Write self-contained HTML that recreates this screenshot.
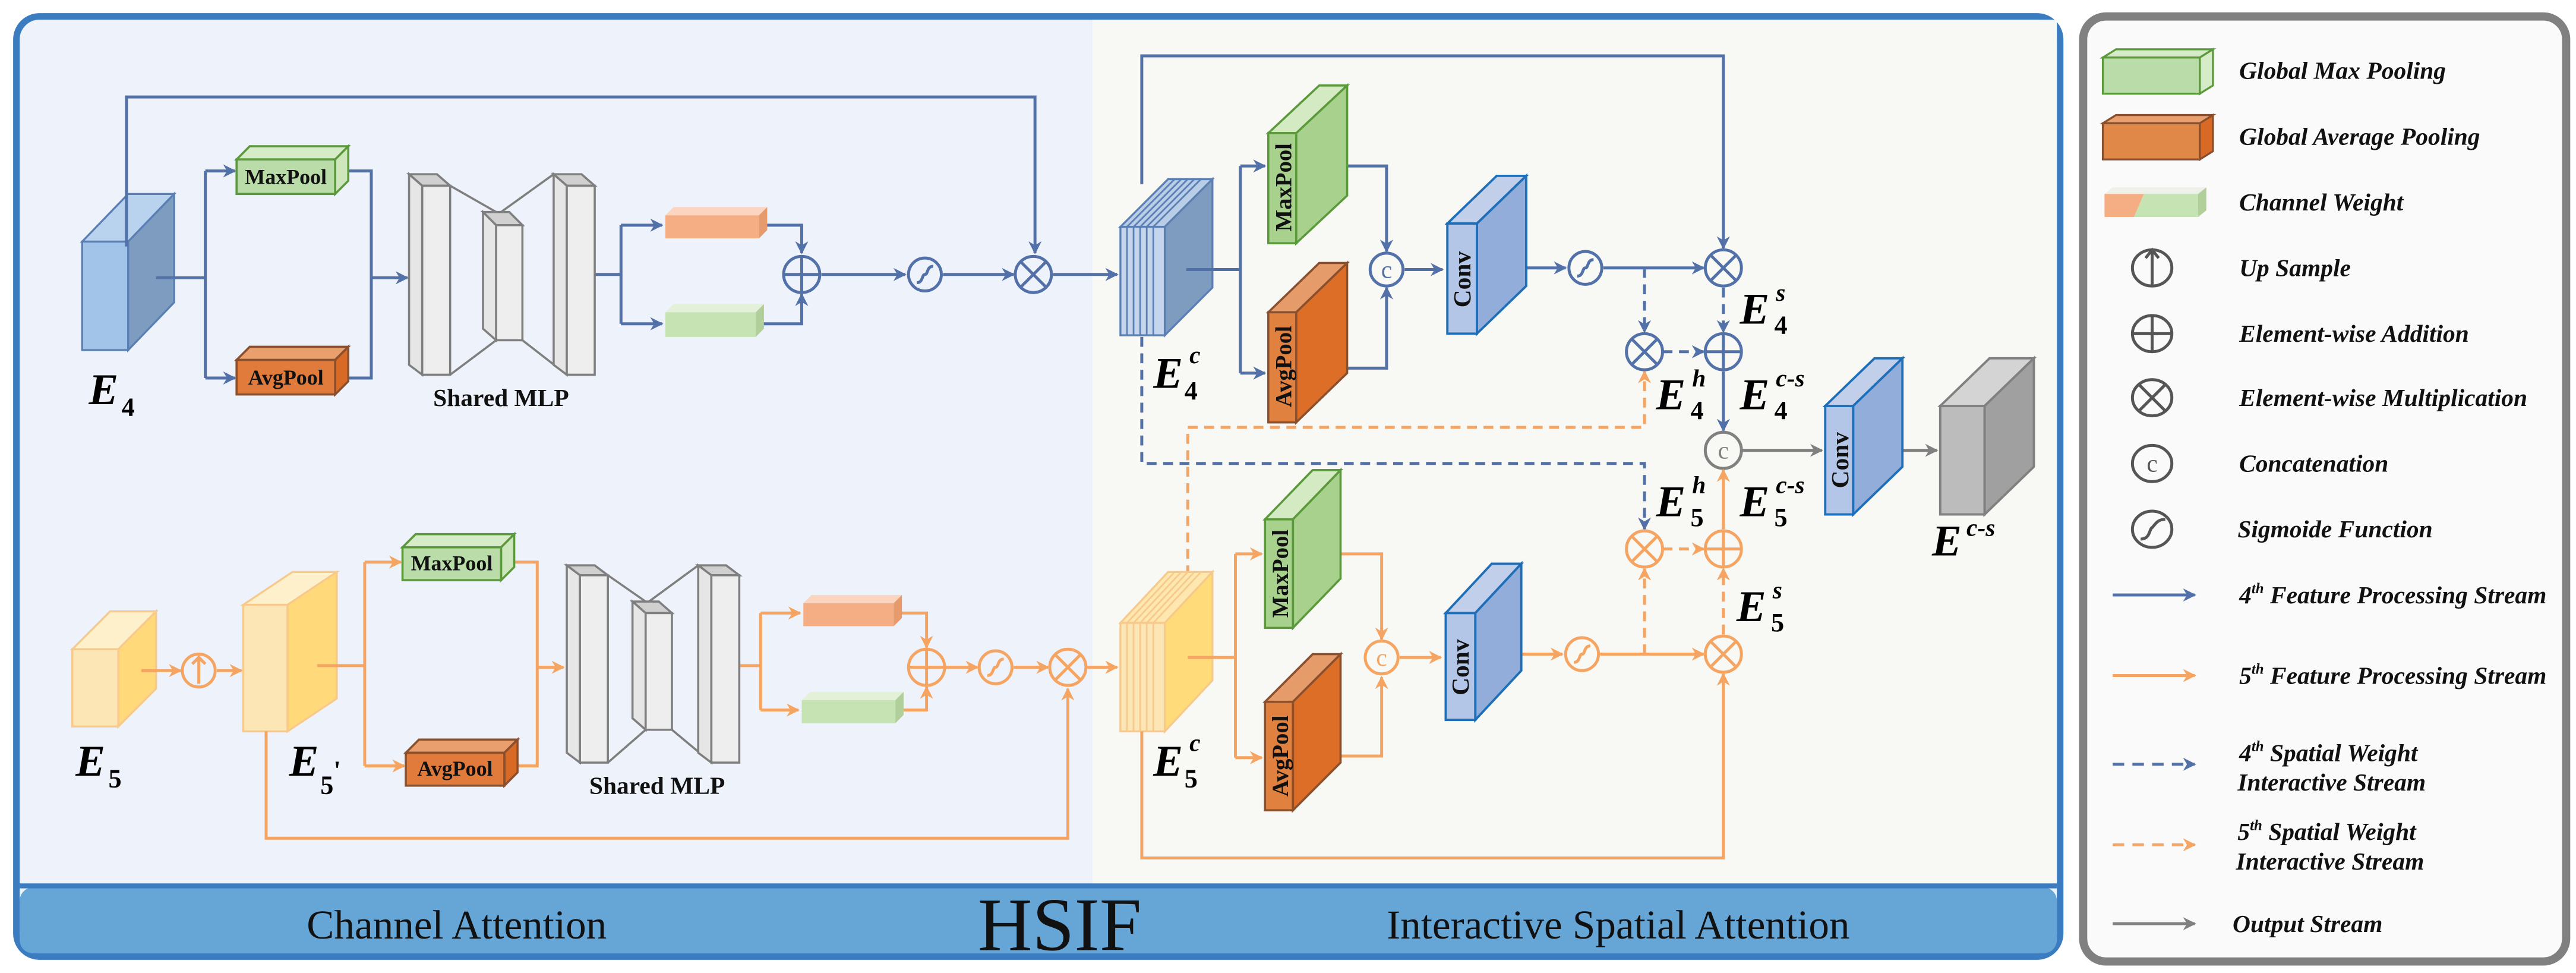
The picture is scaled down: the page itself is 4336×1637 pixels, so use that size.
<!DOCTYPE html>
<html><head><meta charset="utf-8"><style>
html,body{margin:0;padding:0;background:#fff;}
svg{display:block;font-family:"Liberation Serif","DejaVu Serif",serif;}
svg text{font-family:"Liberation Serif","DejaVu Serif",serif !important;}
.E{font-weight:bold;font-style:italic;font-size:27px;}
.sb{font-weight:bold;font-size:16px;}
.sp{font-weight:bold;font-style:italic;font-size:15px;}
.lg{font-weight:bold;font-style:italic;font-size:15px;fill:#111;}
</style></head><body>
<svg width="4336" height="1637" viewBox="0 0 1568 592" preserveAspectRatio="none" xmlns="http://www.w3.org/2000/svg" font-family="Liberation Serif, DejaVu Serif, serif" style="font-family:'Liberation Serif','DejaVu Serif',serif">
<defs>
<marker id="ab" viewBox="0 0 10 10" refX="9" refY="5" markerWidth="9" markerHeight="8" orient="auto" markerUnits="userSpaceOnUse"><path d="M0,0 L10,5 L0,10 L3,5z" fill="#5371a9"/></marker>
<marker id="ao" viewBox="0 0 10 10" refX="9" refY="5" markerWidth="9" markerHeight="8" orient="auto" markerUnits="userSpaceOnUse"><path d="M0,0 L10,5 L0,10 L3,5z" fill="#f5a462"/></marker>
<marker id="ag" viewBox="0 0 10 10" refX="9" refY="5" markerWidth="9" markerHeight="8" orient="auto" markerUnits="userSpaceOnUse"><path d="M0,0 L10,5 L0,10 L3,5z" fill="#808080"/></marker>
</defs>

<rect x="10" y="10" width="1244" height="572" rx="14" fill="#eef2fa" stroke="#3a7cbf" stroke-width="4"/>
<rect x="665" y="12" width="587" height="527" fill="#f8f8f4"/>
<rect x="12" y="540" width="1240" height="40" rx="8" fill="#66a6d6"/>
<line x1="12" y1="539" x2="1252" y2="539" stroke="#3a7cbf" stroke-width="3"/>
<text x="278" y="571" font-size="25" text-anchor="middle" fill="#111">Channel Attention</text>
<text x="645" y="578" font-size="46" text-anchor="middle" fill="#111">HSIF</text>
<text x="985" y="571" font-size="25" text-anchor="middle" fill="#111">Interactive Spatial Attention</text>

<rect x="1268" y="10" width="294" height="575" rx="14" fill="#fafafa" stroke="#808080" stroke-width="5"/>

<polygon points="50,147 78,118 106,118 78,147" fill="#b9d3ef" stroke="#5a7fb5" stroke-width="1.2"/>
<polygon points="78,147 106,118 106,184 78,213" fill="#7d9cc0" stroke="#5a7fb5" stroke-width="1.2"/>
<rect x="50" y="147" width="28" height="66" fill="#a2c4e8" stroke="#5a7fb5" stroke-width="1.2"/>
<text x="54" y="246" class="E">E</text><text x="74" y="253" class="sb">4</text>

<g fill="none" stroke="#5371a9" stroke-width="1.8">
<path d="M77,150 V59 H630 V154" marker-end="url(#ab)"/>
<path d="M95,169 H125 M125,104 V230"/>
<path d="M125,104 H143" marker-end="url(#ab)"/>
<path d="M125,230 H143" marker-end="url(#ab)"/>
<path d="M206,104 H226 V230 H206"/>
<path d="M226,169 H248" marker-end="url(#ab)"/>
<path d="M362,167 H378 M378,137 V197"/>
<path d="M378,137 H403" marker-end="url(#ab)"/>
<path d="M378,197 H403" marker-end="url(#ab)"/>
<path d="M465,137 H488 V154" marker-end="url(#ab)"/>
<path d="M463,197 H488 V179" marker-end="url(#ab)"/>
<path d="M500,167 H551" marker-end="url(#ab)"/>
<path d="M574,167 H617" marker-end="url(#ab)"/>
<path d="M641,167 H680" marker-end="url(#ab)"/>
</g>

<polygon points="144,97 152,89 212,89 204,97" fill="#d6ebc8" stroke="#5a9a3a" stroke-width="1.3"/>
<polygon points="204,97 212,89 212,110 204,118" fill="#cde6bc" stroke="#5a9a3a" stroke-width="1.3"/>
<rect x="144" y="97" width="60" height="21" fill="#b9dca8" stroke="#5a9a3a" stroke-width="1.3"/>
<text x="174" y="112" font-size="13" text-anchor="middle" fill="#111" font-weight="bold">MaxPool</text>
<polygon points="144,219 152,211 212,211 204,219" fill="#e9a06e" stroke="#8a4f2d" stroke-width="1.3"/>
<polygon points="204,219 212,211 212,232 204,240" fill="#d96a26" stroke="#8a4f2d" stroke-width="1.3"/>
<rect x="144" y="219" width="60" height="21" fill="#e07b3c" stroke="#8a4f2d" stroke-width="1.3"/>
<text x="174" y="234" font-size="13" text-anchor="middle" fill="#111" font-weight="bold">AvgPool</text>

<g stroke="#7f7f7f" stroke-width="1.3">
<line x1="274" y1="113" x2="302" y2="129"/><line x1="274" y1="228" x2="302" y2="207"/>
<line x1="305" y1="129" x2="337" y2="106"/><line x1="318" y1="207" x2="345" y2="228"/>
<polygon points="249,106 266,106 274,113 257,113" fill="#d0d0d0"/>
<polygon points="249,106 257,113 257,228 249,222" fill="#e6e6e6"/>
<rect x="257" y="113" width="17" height="115" fill="#eeeeee"/>
<polygon points="294,129 310,129 318,137 302,137" fill="#d0d0d0"/>
<polygon points="294,129 302,137 302,207 294,200" fill="#e6e6e6"/>
<rect x="302" y="137" width="16" height="70" fill="#eeeeee"/>
<polygon points="337,106 354,106 362,113 345,113" fill="#d0d0d0"/>
<polygon points="337,106 345,113 345,228 337,222" fill="#e6e6e6"/>
<rect x="345" y="113" width="17" height="115" fill="#eeeeee"/>
</g>
<text x="305" y="247" font-size="15" text-anchor="middle" font-weight="bold" fill="#111">Shared MLP</text>

<polygon points="405,131 410,126 467,126 462,131" fill="#fbd5c0"/>
<rect x="405" y="131" width="57" height="14" fill="#f5ae84"/>
<polygon points="462,131 467,126 467,140 462,145" fill="#e79a6c"/>
<polygon points="405,190 410,185 465,185 460,190" fill="#e3f1d8"/>
<rect x="405" y="190" width="55" height="15" fill="#c6e3b4"/>
<polygon points="460,190 465,185 465,200 460,205" fill="#b1cf9a"/>

<g fill="none" stroke="#5371a9" stroke-width="1.8">
<circle cx="488" cy="167" r="11"/><path d="M477,167 H499 M488,156 V178"/>
<circle cx="563" cy="167" r="10"/><path d="M558,172 C562,172 561,167 563,167 C565,167 564,162 568,162"/>
<circle cx="629" cy="167" r="11"/><path d="M621,159 L637,175 M637,159 L621,175"/>
</g>

<polygon points="682,138 711,109 738,109 709,138" fill="#b9cde6" stroke="#5a7fb5" stroke-width="1.2"/>
<g stroke="#5a7fb5" stroke-width="1"><path d="M686,138 L715,109 M690,138 L719,109 M694,138 L723,109 M698,138 L727,109 M702,138 L731,109"/></g>
<polygon points="709,138 738,109 738,175 709,204" fill="#7d9cc0" stroke="#5a7fb5" stroke-width="1.2"/>
<rect x="682" y="138" width="27" height="66" fill="#c5d6ec" stroke="#5a7fb5" stroke-width="1.2"/>
<g stroke="#5a7fb5" stroke-width="1"><path d="M686,138 V204 M690,138 V204 M694,138 V204 M698,138 V204 M702,138 V204"/></g>
<text x="702" y="236" class="E">E</text><text x="724" y="221" class="sp">c</text><text x="721" y="243" class="sb">4</text>

<g fill="none" stroke="#5371a9" stroke-width="1.8">
<path d="M695,112 V34 H1049 V151" marker-end="url(#ab)"/>
<path d="M722,164 H755 M755,101 V227"/>
<path d="M755,101 H770" marker-end="url(#ab)"/>
<path d="M755,227 H770" marker-end="url(#ab)"/>
<path d="M806,101 H844 V153" marker-end="url(#ab)"/>
<path d="M808,224 H844 V175" marker-end="url(#ab)"/>
<path d="M855,164 H878" marker-end="url(#ab)"/>
<path d="M913,163 H953" marker-end="url(#ab)"/>
<path d="M976,163 H1037" marker-end="url(#ab)"/>
<path d="M1049,226 V262" marker-end="url(#ab)"/>
</g>
<g fill="none" stroke="#5371a9" stroke-width="1.8" stroke-dasharray="6,4">
<path d="M1001,163 V202" marker-end="url(#ab)"/>
<path d="M1012,214 H1037" marker-end="url(#ab)"/>
<path d="M1049,175 V202" marker-end="url(#ab)"/>
<path d="M695,205 V282 H1001 V322" marker-end="url(#ab)"/>
</g>
<g fill="none" stroke="#f5a462" stroke-width="1.8" stroke-dasharray="6,4">
<path d="M723,350 V260 H1001 V226" marker-end="url(#ao)"/>
</g>

<polygon points="772,81 803,52 820,52 789,81" fill="#d3eac3" stroke="#5a9a3a" stroke-width="1.3"/>
<polygon points="789,81 820,52 820,119 789,148" fill="#a8d18d" stroke="#5a9a3a" stroke-width="1.3"/>
<rect x="772" y="81" width="17" height="67" fill="#a8d18d" stroke="#5a9a3a" stroke-width="1.3"/>
<text transform="translate(786,114) rotate(-90)" font-size="14" text-anchor="middle" font-weight="bold" fill="#111">MaxPool</text>
<polygon points="772,190 803,160 820,160 789,190" fill="#e69c6a" stroke="#8a4f2d" stroke-width="1.3"/>
<polygon points="789,190 820,160 820,227 789,257" fill="#dc6e27" stroke="#8a4f2d" stroke-width="1.3"/>
<rect x="772" y="190" width="17" height="67" fill="#e08140" stroke="#8a4f2d" stroke-width="1.3"/>
<text transform="translate(786,223) rotate(-90)" font-size="14" text-anchor="middle" font-weight="bold" fill="#111">AvgPool</text>
<polygon points="881,136 911,107 929,107 899,136" fill="#c1cfea" stroke="#1f6fb8" stroke-width="1.4"/>
<polygon points="899,136 929,107 929,174 899,203" fill="#93addb" stroke="#1f6fb8" stroke-width="1.4"/>
<rect x="881" y="136" width="18" height="67" fill="#b4c6e7" stroke="#1f6fb8" stroke-width="1.4"/>
<text transform="translate(895,170) rotate(-90)" font-size="15" text-anchor="middle" font-weight="bold" fill="#111">Conv</text>

<g fill="none" stroke="#5371a9" stroke-width="1.8">
<circle cx="844" cy="164" r="10"/>
<circle cx="965" cy="163" r="10"/><path d="M960,168 C964,168 963,163 965,163 C967,163 966,158 970,158"/>
<circle cx="1049" cy="163" r="11"/><path d="M1041,155 L1057,171 M1057,155 L1041,171"/>
<circle cx="1001" cy="214" r="11"/><path d="M993,206 L1009,222 M1009,206 L993,222"/>
<circle cx="1049" cy="214" r="11"/><path d="M1038,214 H1060 M1049,203 V225"/>
</g>
<text x="844" y="169" font-size="15" text-anchor="middle" fill="#5371a9">c</text>

<g fill="none" stroke="#808080" stroke-width="1.8">
<circle cx="1049" cy="274" r="11"/>
<path d="M1060,274 H1109" marker-end="url(#ag)"/>
<path d="M1143,274 H1179" marker-end="url(#ag)"/>
</g>
<text x="1049" y="279" font-size="15" text-anchor="middle" fill="#808080">c</text>
<polygon points="1111,247 1141,218 1158,218 1128,247" fill="#c1cfea" stroke="#1f6fb8" stroke-width="1.4"/>
<polygon points="1128,247 1158,218 1158,284 1128,313" fill="#93addb" stroke="#1f6fb8" stroke-width="1.4"/>
<rect x="1111" y="247" width="17" height="66" fill="#b4c6e7" stroke="#1f6fb8" stroke-width="1.4"/>
<text transform="translate(1125,280) rotate(-90)" font-size="15" text-anchor="middle" font-weight="bold" fill="#111">Conv</text>
<polygon points="1181,247 1211,218 1238,218 1208,247" fill="#d4d4d4" stroke="#808080" stroke-width="1.4"/>
<polygon points="1208,247 1238,218 1238,284 1208,313" fill="#a0a0a0" stroke="#808080" stroke-width="1.4"/>
<rect x="1181" y="247" width="27" height="66" fill="#bcbcbc" stroke="#808080" stroke-width="1.4"/>
<text x="1176" y="338" class="E">E</text><text x="1197" y="326" class="sp">c-s</text>

<text x="1059" y="197" class="E">E</text><text x="1081" y="183" class="sp">s</text><text x="1080" y="203" class="sb">4</text>
<text x="1008" y="249" class="E">E</text><text x="1030" y="235" class="sp">h</text><text x="1029" y="255" class="sb">4</text>
<text x="1059" y="249" class="E">E</text><text x="1081" y="235" class="sp">c-s</text><text x="1080" y="255" class="sb">4</text>
<text x="1008" y="314" class="E">E</text><text x="1030" y="300" class="sp">h</text><text x="1029" y="320" class="sb">5</text>
<text x="1059" y="314" class="E">E</text><text x="1081" y="300" class="sp">c-s</text><text x="1080" y="320" class="sb">5</text>
<text x="1057" y="378" class="E">E</text><text x="1079" y="364" class="sp">s</text><text x="1078" y="384" class="sb">5</text>

<polygon points="44,395 67,372 95,372 72,395" fill="#fff0cc" stroke="#f7c98a" stroke-width="1.2"/>
<polygon points="72,395 95,372 95,419 72,442" fill="#ffd97a" stroke="#f7c98a" stroke-width="1.2"/>
<rect x="44" y="395" width="28" height="47" fill="#fde6b6" stroke="#f7c98a" stroke-width="1.2"/>
<text x="46" y="472" class="E">E</text><text x="66" y="479" class="sb">5</text>

<polygon points="148,368 178,348 205,348 175,368" fill="#fff0cc" stroke="#f7c98a" stroke-width="1.2"/>
<polygon points="175,368 205,348 205,425 175,445" fill="#ffd97a" stroke="#f7c98a" stroke-width="1.2"/>
<rect x="148" y="368" width="27" height="77" fill="#fde6b6" stroke="#f7c98a" stroke-width="1.2"/>
<text x="176" y="472" class="E">E</text><text x="195" y="483" class="sb">5</text><text x="203" y="474" class="sb" font-size="11">'</text>

<g fill="none" stroke="#f5a462" stroke-width="1.8">
<path d="M86,408 H110" marker-end="url(#ao)"/>
<circle cx="121" cy="408" r="10"/><path d="M121,400 V416 M117,404 L121,400 L125,404"/>
<path d="M132,408 H147" marker-end="url(#ao)"/>
<path d="M193,405 H222 M222,342 V466"/>
<path d="M222,342 H244" marker-end="url(#ao)"/>
<path d="M222,466 H246" marker-end="url(#ao)"/>
<path d="M306,342 H327 V466 H308"/>
<path d="M327,406 H343" marker-end="url(#ao)"/>
<path d="M450,405 H463 M463,373 V432"/>
<path d="M463,373 H487" marker-end="url(#ao)"/>
<path d="M463,432 H486" marker-end="url(#ao)"/>
<path d="M546,373 H564 V394" marker-end="url(#ao)"/>
<path d="M547,432 H564 V418" marker-end="url(#ao)"/>
<circle cx="564" cy="406" r="11"/><path d="M553,406 H575 M564,395 V417"/>
<path d="M575,406 H595" marker-end="url(#ao)"/>
<circle cx="606" cy="406" r="10"/><path d="M601,411 C605,411 604,406 606,406 C608,406 607,401 611,401"/>
<path d="M617,406 H638" marker-end="url(#ao)"/>
<circle cx="650" cy="406" r="11"/><path d="M642,398 L658,414 M658,398 L642,414"/>
<path d="M661,406 H680" marker-end="url(#ao)"/>
<path d="M162,445 V510 H650 V419" marker-end="url(#ao)"/>
</g>

<polygon points="245,333 253,325 313,325 305,333" fill="#d6ebc8" stroke="#5a9a3a" stroke-width="1.3"/>
<polygon points="305,333 313,325 313,345 305,353" fill="#cde6bc" stroke="#5a9a3a" stroke-width="1.3"/>
<rect x="245" y="333" width="60" height="20" fill="#b9dca8" stroke="#5a9a3a" stroke-width="1.3"/>
<text x="275" y="347" font-size="13" text-anchor="middle" fill="#111" font-weight="bold">MaxPool</text>
<polygon points="247,458 255,450 315,450 307,458" fill="#e9a06e" stroke="#8a4f2d" stroke-width="1.3"/>
<polygon points="307,458 315,450 315,470 307,478" fill="#d96a26" stroke="#8a4f2d" stroke-width="1.3"/>
<rect x="247" y="458" width="60" height="20" fill="#e07b3c" stroke="#8a4f2d" stroke-width="1.3"/>
<text x="277" y="472" font-size="13" text-anchor="middle" fill="#111" font-weight="bold">AvgPool</text>

<g stroke="#7f7f7f" stroke-width="1.3">
<line x1="370" y1="350" x2="393" y2="366"/><line x1="370" y1="464" x2="393" y2="444"/>
<line x1="395" y1="366" x2="425" y2="344"/><line x1="409" y1="444" x2="433" y2="464"/>
<polygon points="345,344 362,344 370,350 353,350" fill="#d0d0d0"/>
<polygon points="345,344 353,350 353,464 345,458" fill="#e6e6e6"/>
<rect x="353" y="350" width="17" height="114" fill="#eeeeee"/>
<polygon points="385,366 401,366 409,373 393,373" fill="#d0d0d0"/>
<polygon points="385,366 393,373 393,444 385,437" fill="#e6e6e6"/>
<rect x="393" y="373" width="16" height="71" fill="#eeeeee"/>
<polygon points="425,344 442,344 450,350 433,350" fill="#d0d0d0"/>
<polygon points="425,344 433,350 433,464 425,458" fill="#e6e6e6"/>
<rect x="433" y="350" width="17" height="114" fill="#eeeeee"/>
</g>
<text x="400" y="483" font-size="15" text-anchor="middle" font-weight="bold" fill="#111">Shared MLP</text>

<polygon points="489,367 494,362 549,362 544,367" fill="#fbd5c0"/>
<rect x="489" y="367" width="55" height="14" fill="#f5ae84"/>
<polygon points="544,367 549,362 549,376 544,381" fill="#e79a6c"/>
<polygon points="488,426 493,421 550,421 545,426" fill="#e3f1d8"/>
<rect x="488" y="426" width="57" height="14" fill="#c6e3b4"/>
<polygon points="545,426 550,421 550,435 545,440" fill="#b1cf9a"/>

<polygon points="682,379 711,348 738,348 709,379" fill="#ffe7b0" stroke="#f7c98a" stroke-width="1.2"/>
<g stroke="#f7c98a" stroke-width="1"><path d="M686,379 L715,348 M690,379 L719,348 M694,379 L723,348 M698,379 L727,348 M702,379 L731,348"/></g>
<polygon points="709,379 738,348 738,414 709,445" fill="#ffdb7a" stroke="#f7c98a" stroke-width="1.2"/>
<rect x="682" y="379" width="27" height="66" fill="#fde6b6" stroke="#f7c98a" stroke-width="1.2"/>
<g stroke="#f7c98a" stroke-width="1"><path d="M686,379 V445 M690,379 V445 M694,379 V445 M698,379 V445 M702,379 V445"/></g>
<text x="702" y="472" class="E">E</text><text x="724" y="457" class="sp">c</text><text x="721" y="479" class="sb">5</text>

<g fill="none" stroke="#f5a462" stroke-width="1.8">
<path d="M723,400 H752 M752,337 V461"/>
<path d="M752,337 H768" marker-end="url(#ao)"/>
<path d="M752,461 H768" marker-end="url(#ao)"/>
<path d="M804,337 H841 V389" marker-end="url(#ao)"/>
<path d="M805,460 H841 V412" marker-end="url(#ao)"/>
<circle cx="841" cy="400" r="10"/>
<path d="M852,400 H877" marker-end="url(#ao)"/>
<path d="M910,398 H951" marker-end="url(#ao)"/>
<circle cx="963" cy="398" r="10"/><path d="M958,403 C962,403 961,398 963,398 C965,398 964,393 968,393"/>
<path d="M974,398 H1037" marker-end="url(#ao)"/>
<circle cx="1049" cy="398" r="11"/><path d="M1041,390 L1057,406 M1057,390 L1041,406"/>
<circle cx="1001" cy="334" r="11"/><path d="M993,326 L1009,342 M1009,326 L993,342"/>
<circle cx="1049" cy="334" r="11"/><path d="M1038,334 H1060 M1049,323 V345"/>
<path d="M1049,322 V286" marker-end="url(#ao)"/>
<path d="M695,445 V522 H1049 V410" marker-end="url(#ao)"/>
</g>
<text x="841" y="405" font-size="15" text-anchor="middle" fill="#f5a462">c</text>
<g fill="none" stroke="#f5a462" stroke-width="1.8" stroke-dasharray="6,4">
<path d="M1001,398 V346" marker-end="url(#ao)"/>
<path d="M1012,334 H1037" marker-end="url(#ao)"/>
<path d="M1049,386 V346" marker-end="url(#ao)"/>
</g>

<polygon points="770,316 799,286 816,286 787,316" fill="#d3eac3" stroke="#5a9a3a" stroke-width="1.3"/>
<polygon points="787,316 816,286 816,352 787,382" fill="#a8d18d" stroke="#5a9a3a" stroke-width="1.3"/>
<rect x="770" y="316" width="17" height="66" fill="#a8d18d" stroke="#5a9a3a" stroke-width="1.3"/>
<text transform="translate(784,349) rotate(-90)" font-size="14" text-anchor="middle" font-weight="bold" fill="#111">MaxPool</text>
<polygon points="770,427 799,398 816,398 787,427" fill="#e69c6a" stroke="#8a4f2d" stroke-width="1.3"/>
<polygon points="787,427 816,398 816,464 787,493" fill="#dc6e27" stroke="#8a4f2d" stroke-width="1.3"/>
<rect x="770" y="427" width="17" height="66" fill="#e08140" stroke="#8a4f2d" stroke-width="1.3"/>
<text transform="translate(784,460) rotate(-90)" font-size="14" text-anchor="middle" font-weight="bold" fill="#111">AvgPool</text>
<polygon points="880,373 908,343 926,343 898,373" fill="#c1cfea" stroke="#1f6fb8" stroke-width="1.4"/>
<polygon points="898,373 926,343 926,408 898,438" fill="#93addb" stroke="#1f6fb8" stroke-width="1.4"/>
<rect x="880" y="373" width="18" height="65" fill="#b4c6e7" stroke="#1f6fb8" stroke-width="1.4"/>
<text transform="translate(894,406) rotate(-90)" font-size="15" text-anchor="middle" font-weight="bold" fill="#111">Conv</text>

<polygon points="1280,35 1288,30 1347,30 1339,35" fill="#d6ebc8" stroke="#5a9a3a" stroke-width="1.2"/>
<polygon points="1339,35 1347,30 1347,52 1339,57" fill="#d6ebc8" stroke="#5a9a3a" stroke-width="1.2"/>
<rect x="1280" y="35" width="59" height="22" fill="#b9dca8" stroke="#5a9a3a" stroke-width="1.2"/>
<polygon points="1280,75 1288,70 1347,70 1339,75" fill="#e9a06e" stroke="#8a4f2d" stroke-width="1.2"/>
<polygon points="1339,75 1347,70 1347,92 1339,97" fill="#d96a26" stroke="#8a4f2d" stroke-width="1.2"/>
<rect x="1280" y="75" width="59" height="22" fill="#e08848" stroke="#8a4f2d" stroke-width="1.2"/>
<polygon points="1281,118 1286,114 1343,114 1338,118" fill="#eef0ea"/>
<polygon points="1281,118 1305,118 1299,132 1281,132" fill="#f5ae84"/>
<polygon points="1305,118 1338,118 1338,132 1299,132" fill="#c6e3b4"/>
<polygon points="1338,118 1343,114 1343,128 1338,132" fill="#b1cf9a"/>
<g fill="none" stroke="#555" stroke-width="1.8">
<ellipse cx="1310" cy="163" rx="12" ry="11"/><path d="M1310,174 V153 M1306,157 L1310,152 L1314,157"/>
<ellipse cx="1310" cy="203" rx="12" ry="11"/><path d="M1298,203 H1322 M1310,192 V214"/>
<ellipse cx="1310" cy="242" rx="12" ry="11"/><path d="M1302,234 L1318,250 M1318,234 L1302,250"/>
<ellipse cx="1310" cy="282" rx="12" ry="11"/>
<ellipse cx="1310" cy="322" rx="12" ry="11"/><path d="M1303,328 C1309,328 1308,322 1310,321 C1312,319 1313,316 1318,316"/>
</g>
<text x="1310" y="287" font-size="15" text-anchor="middle" fill="#555">c</text>
<path d="M1286,362 H1336" stroke="#5371a9" stroke-width="1.8" marker-end="url(#ab)"/>
<path d="M1286,411 H1336" stroke="#f5a462" stroke-width="1.8" marker-end="url(#ao)"/>
<path d="M1286,465 H1336" stroke="#5371a9" stroke-width="1.8" stroke-dasharray="7,5" marker-end="url(#ab)"/>
<path d="M1286,514 H1336" stroke="#f5a462" stroke-width="1.8" stroke-dasharray="7,5" marker-end="url(#ao)"/>
<path d="M1286,562 H1336" stroke="#808080" stroke-width="1.8" marker-end="url(#ag)"/>

<text x="1363" y="48" class="lg">Global Max Pooling</text>
<text x="1363" y="88" class="lg">Global Average Pooling</text>
<text x="1363" y="128" class="lg">Channel Weight</text>
<text x="1363" y="168" class="lg">Up Sample</text>
<text x="1363" y="208" class="lg">Element-wise Addition</text>
<text x="1363" y="247" class="lg">Element-wise Multiplication</text>
<text x="1363" y="287" class="lg">Concatenation</text>
<text x="1362" y="327" class="lg">Sigmoide Function</text>
<text x="1363" y="367" class="lg">4<tspan font-size="9" dy="-6">th</tspan><tspan dy="6"> Feature Processing Stream</tspan></text>
<text x="1363" y="416" class="lg">5<tspan font-size="9" dy="-6">th</tspan><tspan dy="6"> Feature Processing Stream</tspan></text>
<text x="1363" y="463" class="lg">4<tspan font-size="9" dy="-6">th</tspan><tspan dy="6"> Spatial Weight</tspan></text>
<text x="1362" y="481" class="lg">Interactive Stream</text>
<text x="1362" y="511" class="lg">5<tspan font-size="9" dy="-6">th</tspan><tspan dy="6"> Spatial Weight</tspan></text>
<text x="1361" y="529" class="lg">Interactive Stream</text>
<text x="1359" y="567" class="lg">Output Stream</text>
</svg>
</body></html>
